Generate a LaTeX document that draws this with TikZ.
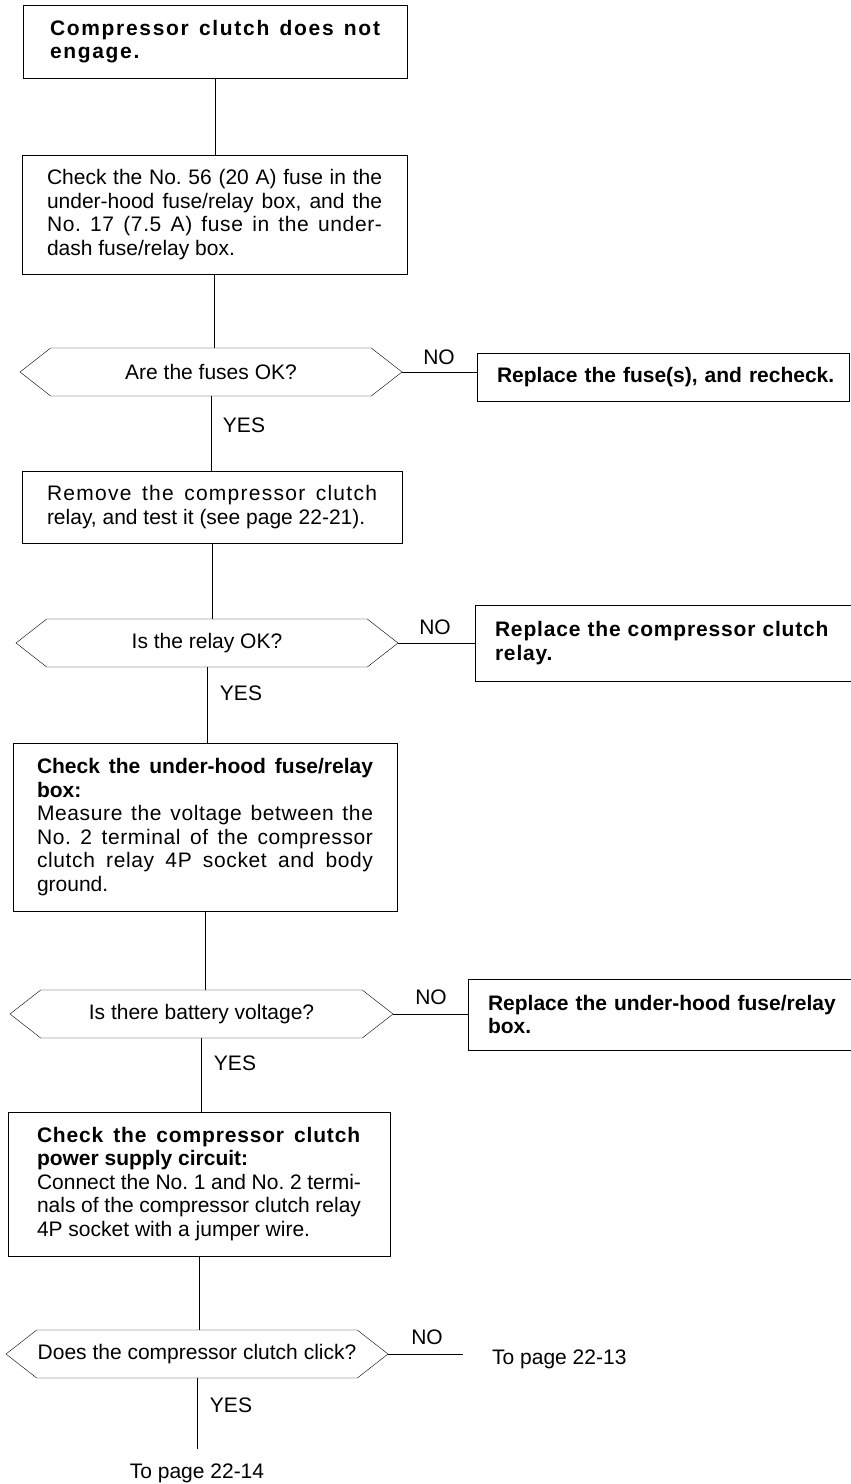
\documentclass[tikz,border=0pt]{standalone}
\usepackage{fontspec}
\setmainfont{Liberation Sans}
\newfontfamily\widefont[LetterSpace=8]{Liberation Sans}
\newfontfamily\loosefont[LetterSpace=6]{Liberation Sans}
\newfontfamily\semifont[LetterSpace=4]{Liberation Sans}
\newfontfamily\trackfont[LetterSpace=3]{Liberation Sans}
\usetikzlibrary{shapes.symbols}
\newcommand{\wb}{\widefont\bfseries}
\newcommand{\semib}{\semifont\bfseries}
\frenchspacing
\hyphenpenalty=10000
\begin{document}
\begin{tikzpicture}[x=1pt, y=-1pt,
        box/.style={draw, rectangle, align=justify, inner xsep=25pt, inner ysep=0pt, font=\fontsize{21}{23.5}\selectfont},
        query/.style={draw, signal, signal to=west and east, signal pointer angle=76, minimum height=48pt, minimum width=382pt, inner sep=0pt, font=\fontsize{21}{23.5}\selectfont},
        fixbox/.style={draw, rectangle, align=left, inner xsep=20pt, inner ysep=0pt, font=\fontsize{21}{23.5}\selectfont\bfseries},
        lbl/.style={font=\fontsize{21}{23.5}\selectfont, inner sep=0pt},
        link/.style={line width=0.8pt}
    ]
    \useasboundingbox (0,0) rectangle (851,1484);

    \node[box, inner xsep=27pt, text width=330pt, minimum height=73pt] (nogo) at (215,41.5) {\wb Compressor clutch does not\linebreak engage.};
    \node[box, text width=335pt, minimum height=119pt] (fuses) at (214.5,214.5) {Check the No. 56 (20 A) fuse in the\linebreak under-hood fuse/relay box, and the\linebreak {\trackfont No. 17 (7.5 A) fuse in the under-}\linebreak dash fuse/relay box.};
    \node[query] (q1) at (211,372) {Are the fuses OK?};
    \node[fixbox, text width=332pt, minimum height=48pt] (fix1) at (663,377) {\mbox{Replace the fuse(s), and recheck.}};

    \node[box, text width=330pt, minimum height=72pt] (relay) at (212,507) {{\loosefont Remove the compressor clutch}\linebreak relay, and test it (see page 22-21).};
    \node[query] (q2) at (207,643) {Is the relay OK?};
    \node[fixbox, text width=340pt, minimum height=76pt] (fix2) at (665,643) {\semib Replace the compressor clutch\\\semib relay.};

    \node[box, inner xsep=24pt, text width=336pt, minimum height=168pt] (hood) at (205,827) {\textbf{Check the under-hood fuse/relay}\linebreak \textbf{box:}\\{\trackfont Measure the voltage between the}\linebreak {\trackfont No. 2 terminal of the compressor}\linebreak {\trackfont clutch relay 4P socket and body}\linebreak ground.};
    \node[query, minimum width=383pt] (q3) at (201.5,1014) {Is there battery voltage?};
    \node[fixbox, text width=345pt, minimum height=71pt] (fix3) at (660.5,1014.5) {\mbox{Replace the under-hood fuse/relay}\\box.};

    \node[box, inner xsep=29pt, text width=324pt, minimum height=144pt] (supply) at (199,1184) {{\semib Check the compressor clutch}\linebreak \textbf{power supply circuit:}\\Connect the No. 1 and No. 2 termi-\linebreak nals of the compressor clutch relay\linebreak 4P socket with a jumper wire.};
    \node[query] (q4) at (197,1354) {Does the compressor clutch click?};

    \coordinate (end13) at (463,1354);
    \coordinate (end14) at (199,1449);
    \node[lbl, anchor=west] (pg13) at (492,1359) {To page 22-13};
    \node[lbl] (pg14) at (197,1473) {To page 22-14};

    \draw[link] (nogo.south) -- (nogo.south |- fuses.north);
    \draw[link] (fuses.south) -- (fuses.south |- q1.north);
    \draw[link] (q1.south) -- (q1.south |- relay.north);
    \draw[link] (relay.south) -- (relay.south |- q2.north);
    \draw[link] (q2.south) -- (q2.south |- hood.north);
    \draw[link] (hood.south) -- (hood.south |- q3.north);
    \draw[link] (q3.south) -- (q3.south |- supply.north);
    \draw[link] (supply.south) -- (supply.south |- q4.north);
    \draw[link] (q4.south) -- (q4.south |- end14);

    \draw[link] (q1.east) -- (fix1.west |- q1.east);
    \draw[link] (q2.east) -- (fix2.west |- q2.east);
    \draw[link] (q3.east) -- (fix3.west |- q3.east);
    \draw[link] (q4.east) -- (end13);

    \node[lbl] (no1) at (439,357) {NO};
    \node[lbl] (no2) at (435,627) {NO};
    \node[lbl] (no3) at (431,997) {NO};
    \node[lbl] (no4) at (427,1337) {NO};
    \node[lbl] (yes1) at (244,425) {YES};
    \node[lbl] (yes2) at (241,693) {YES};
    \node[lbl] (yes3) at (235,1063) {YES};
    \node[lbl] (yes4) at (231,1405) {YES};
\end{tikzpicture}
\end{document}
